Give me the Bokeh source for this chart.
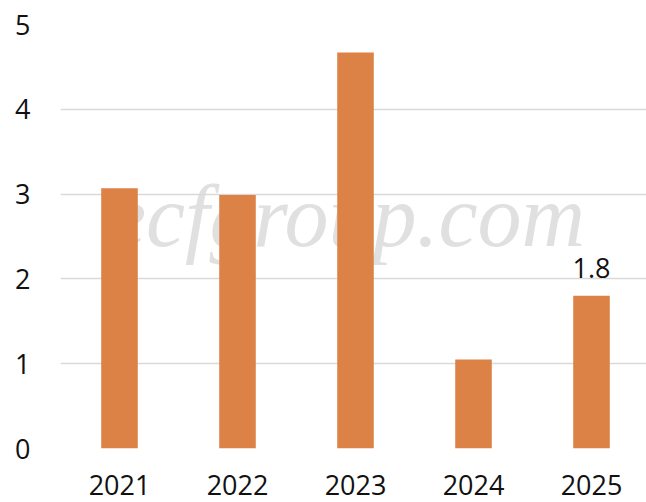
from bokeh.plotting import figure
from bokeh.models import Range1d, FixedTicker
from bokeh.core.properties import value
from bokeh.embed import file_html
from bokeh.resources import INLINE

years = ["2021", "2022", "2023", "2024", "2025"]
values = [3.07, 2.99, 4.67, 1.05, 1.8]
label_index = [4]
label_texts = ["1.8"]
y_ticks = [0, 1, 2, 3, 4, 5]
watermark = "ecfgroup.com"

xs = list(range(len(years)))

p = figure(frame_width=586, frame_height=424, output_backend="svg", toolbar_location=None,
           x_range=Range1d(-0.5, 4.466), y_range=Range1d(0, 5),
           min_border_left=60, min_border_top=24, min_border_right=0, min_border_bottom=0)
p.outline_line_color = None
p.background_fill_color = "white"
p.border_fill_color = "white"

# watermark
p.text(x=[1.92], y=[2.74], text=[watermark], text_font=value("Liberation Serif"),
       text_font_style="italic", text_font_size="88px", text_color="#e0e0e0",
       text_align="center", text_baseline="alphabetic", level="image")

p.vbar(x=xs, top=values, width=0.31, bottom=0, fill_color="#dd8247", line_color=None)

lx = [xs[i] for i in label_index]
ly = [values[i] for i in label_index]
p.text(x=lx, y=ly, text=label_texts, text_font=value("Open Sans"), text_font_size="27px",
       text_color="#111111", text_align="center", text_baseline="alphabetic", y_offset=-28)

p.xgrid.visible = False
p.ygrid.grid_line_color = "#d9d9d9"
p.ygrid.grid_line_width = 1.5
p.yaxis.ticker = FixedTicker(ticks=y_ticks)
p.xaxis.ticker = FixedTicker(ticks=xs)
p.xaxis.major_label_overrides = {i: y for i, y in zip(xs, years)}

for ax in (p.xaxis[0], p.yaxis[0]):
    ax.axis_line_color = None
    ax.major_tick_line_color = None
    ax.minor_tick_line_color = None
    ax.major_tick_in = 0
    ax.major_tick_out = 0
    ax.major_label_text_font = "Open Sans"
    ax.major_label_text_font_size = "27px"
    ax.major_label_text_color = "#111111"
p.yaxis.major_label_standoff = 30
p.xaxis.major_label_standoff = 26

open("out.html", "w").write(file_html(p, INLINE))
